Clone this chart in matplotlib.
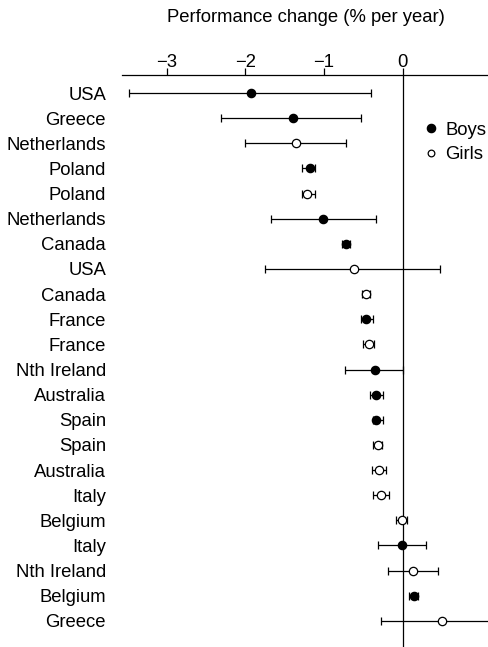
import matplotlib
matplotlib.use("Agg")
import matplotlib.pyplot as plt
from matplotlib.lines import Line2D

plt.rcParams['font.family'] = ['Liberation Sans', 'DejaVu Sans']

countries = ["USA", "Greece", "Netherlands", "Poland", "Poland", "Netherlands",
             "Canada", "USA", "Canada", "France", "France", "Nth Ireland",
             "Australia", "Spain", "Spain", "Australia", "Italy", "Belgium",
             "Italy", "Nth Ireland", "Belgium", "Greece"]
sex = ["Boys", "Boys", "Girls", "Boys", "Girls", "Boys",
       "Boys", "Girls", "Girls", "Boys", "Girls", "Boys",
       "Boys", "Boys", "Girls", "Girls", "Girls", "Girls",
       "Boys", "Girls", "Boys", "Girls"]
change = [-1.93, -1.40, -1.35, -1.18, -1.21, -1.01,
          -0.72, -0.62, -0.47, -0.46, -0.43, -0.35,
          -0.335, -0.335, -0.31, -0.30, -0.28, -0.01,
          -0.01, 0.13, 0.145, 0.50]
ci_low = [-3.48, -2.31, -2.00, -1.28, -1.28, -1.67,
          -0.77, -1.75, -0.52, -0.53, -0.50, -0.73,
          -0.41, -0.37, -0.37, -0.39, -0.38, -0.08,
          -0.31, -0.19, 0.08, -0.27]
ci_high = [-0.40, -0.53, -0.72, -1.11, -1.12, -0.34,
           -0.67, 0.48, -0.41, -0.38, -0.36, 0.01,
           -0.25, -0.25, -0.26, -0.21, -0.17, 0.06,
           0.30, 0.45, 0.20, 1.27]
x_ticks = [-3, -2, -1, 0]
x_tick_labels = ["\u22123", "\u22122", "\u22121", "0"]

FS = 13.3

fig = plt.figure(figsize=(4.89, 6.47), dpi=100)
ax = fig.add_axes([0.2495, 0.0, 0.7505, 0.884])

ax.axvline(0, color="black", lw=0.9, zorder=1)

for i, (c, s, lo, hi) in enumerate(zip(change, sex, ci_low, ci_high)):
    face = "black" if s == "Boys" else "white"
    ax.errorbar(c, i, xerr=[[c - lo], [hi - c]], fmt="o", color="black",
                ecolor="black", elinewidth=0.9, capsize=3.2, capthick=0.9,
                markersize=6, markerfacecolor=face, markeredgecolor="black",
                markeredgewidth=0.9, zorder=3)

ax.set_xlim(-3.57, 1.10)
ax.set_ylim(22.04, -0.716)
ax.set_yticks(range(len(countries)))
ax.set_yticklabels(countries, fontsize=FS)
ax.tick_params(axis="y", length=0, pad=11.5)

ax.xaxis.set_ticks_position("top")
ax.xaxis.set_label_position("top")
ax.set_xticks(x_ticks)
ax.set_xticklabels(x_tick_labels, fontsize=FS)
ax.tick_params(axis="x", direction="out", length=5, width=0.9, pad=-2)
ax.set_xlabel("Performance change (% per year)", fontsize=FS, labelpad=23)

for side in ["left", "right", "bottom"]:
    ax.spines[side].set_visible(False)
ax.spines["top"].set_linewidth(0.9)

handles = [
    Line2D([], [], marker="o", ls="none", color="black", markerfacecolor="black",
           markersize=6, markeredgewidth=0.9),
    Line2D([], [], marker="o", ls="none", color="black", markerfacecolor="white",
           markersize=4.8, markeredgewidth=0.9),
]
ax.legend(handles, ["Boys", "Girls"], loc="upper left",
          bbox_to_anchor=(0.852, 0.826), bbox_transform=fig.transFigure,
          frameon=False, fontsize=FS, handlelength=0.6, handletextpad=0.45,
          labelspacing=0.4, borderpad=0)

fig.savefig("out.png", dpi=100)
